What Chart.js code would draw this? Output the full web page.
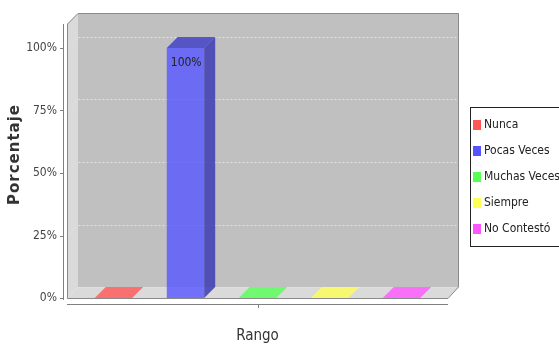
<!DOCTYPE html>
<html>
<head>
<meta charset="utf-8">
<script src="https://cdn.jsdelivr.net/npm/chart.js@4.4.1/dist/chart.umd.min.js"></script>
<style>
  html, body { margin: 0; padding: 0; background: #fff; }
  canvas { display: block; }
</style>
</head>
<body>
<canvas id="chart" width="559" height="345"></canvas>
<script>
// Chart data
const groups = [''];
const categories = ['Nunca', 'Pocas Veces', 'Muchas Veces', 'Siempre', 'No Contestó'];
const percentages = [0, 100, 0, 0, 0];
const yTicks = [0, 25, 50, 75, 100];
const valueLabels = ['0%', '100%', '0%', '0%', '0%'];

// JFreeChart style colours
const baseColors = [[255, 85, 85], [85, 85, 255], [85, 255, 85], [255, 255, 85], [255, 85, 255]];
const rgba = (c, f, a) => `rgba(${Math.round(c[0] * f)},${Math.round(c[1] * f)},${Math.round(c[2] * f)},${a})`;

const DX = 11, DY = 11;
const FONT = '"DejaVu Sans Condensed", "DejaVu Sans", sans-serif';

function poly(ctx, pts) {
    ctx.beginPath();
    pts.forEach((p, i) => i ? ctx.lineTo(p[0], p[1]) : ctx.moveTo(p[0], p[1]));
    ctx.closePath();
}

const plot3d = {
    id: 'plot3d',
    beforeDatasetsDraw(chart) {
        const { ctx, chartArea: a, scales: { y } } = chart;
        const l = a.left, r = a.right, t = a.top, b = Math.round(y.getPixelForValue(0));
        ctx.save();
        // back wall
        ctx.fillStyle = '#c0c0c0';
        ctx.fillRect(l + DX, t - DY, r - l, b - t);
        // left wall and floor
        ctx.fillStyle = '#dadada';
        poly(ctx, [[l, t], [l + DX, t - DY], [l + DX, b - DY], [l, b]]);
        ctx.fill();
        poly(ctx, [[l, b], [l + DX, b - DY], [r + DX, b - DY], [r, b]]);
        ctx.fill();
        // dashed grid lines
        ctx.strokeStyle = '#e4e4e4';
        ctx.lineWidth = 1;
        ctx.setLineDash([2, 2]);
        yTicks.forEach(v => {
            const py = Math.round(y.getPixelForValue(v)) + 0.5;
            ctx.beginPath();
            ctx.moveTo(l, py);
            ctx.lineTo(l + DX, py - DY);
            ctx.lineTo(r + DX, py - DY);
            ctx.stroke();
        });
        ctx.setLineDash([]);
        // outline
        ctx.strokeStyle = '#8a8a8a';
        poly(ctx, [[l + 0.5, b + 0.5], [l + 0.5, t], [l + DX, t - DY + 0.5], [r + DX - 0.5, t - DY + 0.5],
                   [r + DX - 0.5, b - DY], [r, b + 0.5]]);
        ctx.stroke();

        // axis lines and tick marks
        ctx.strokeStyle = '#808080';
        ctx.beginPath();
        ctx.moveTo(l - 3.5, t);
        ctx.lineTo(l - 3.5, b + 2);
        yTicks.forEach(v => {
            const py = Math.round(y.getPixelForValue(v)) + 0.5;
            ctx.moveTo(l - 7, py);
            ctx.lineTo(l - 3.5, py);
        });
        ctx.moveTo(l, b + 6.5);
        ctx.lineTo(r, b + 6.5);
        const cx = Math.round(chart.scales.x.getPixelForValue(0)) + 0.5;
        ctx.moveTo(cx, b + 6.5);
        ctx.lineTo(cx, b + 10);
        ctx.stroke();
        ctx.restore();
    },
    afterDatasetsDraw(chart) {
        const { ctx } = chart;
        ctx.save();
        chart.data.datasets.forEach((ds, i) => {
            chart.getDatasetMeta(i).data.forEach((bar, j) => {
                const { x, y, base, width } = bar.getProps(['x', 'y', 'base', 'width'], true);
                const x0 = x - width / 2, x1 = x + width / 2;
                const zero = ds.data[j] === 0;
                // top face
                ctx.fillStyle = zero ? ds.backgroundColor : rgba(baseColors[i], 0.78, 0.85);
                poly(ctx, [[x0, y], [x1, y], [x1 + DX, y - DY], [x0 + DX, y - DY]]);
                ctx.fill();
                if (zero) return;
                // side face
                ctx.fillStyle = rgba(baseColors[i], 0.7, 0.85);
                poly(ctx, [[x1, y], [x1 + DX, y - DY], [x1 + DX, base - DY], [x1, base]]);
                ctx.fill();
                // value label
                ctx.fillStyle = '#222';
                ctx.font = '12px ' + FONT;
                ctx.textAlign = 'left';
                ctx.textBaseline = 'middle';
                ctx.fillText(valueLabels[i], x0 + 4, y + 15);
            });
        });
        ctx.restore();
    },
    afterDraw(chart) {
        const { ctx } = chart;
        ctx.save();
        // y axis title
        ctx.translate(15, 155);
        ctx.rotate(-Math.PI / 2);
        ctx.font = 'bold 15px "DejaVu Sans", sans-serif';
        ctx.letterSpacing = '1px';
        ctx.fillStyle = '#333';
        ctx.textAlign = 'center';
        ctx.textBaseline = 'middle';
        ctx.fillText('Porcentaje', 0.5, 0);
        ctx.restore();

        // legend
        ctx.save();
        ctx.strokeStyle = '#222';
        ctx.lineWidth = 1;
        ctx.strokeRect(470.5, 107.5, 100, 139);
        ctx.font = '12px ' + FONT;
        ctx.textAlign = 'left';
        ctx.textBaseline = 'middle';
        categories.forEach((c, i) => {
            const cy = 125 + 26 * i;
            ctx.fillStyle = rgba(baseColors[i], 1, 1);
            ctx.fillRect(473, cy - 5, 8, 10);
            ctx.fillStyle = '#222';
            ctx.fillText(c, 484, cy);
        });
        ctx.restore();
    }
};

const chart = new Chart(document.getElementById('chart'), {
    type: 'bar',
    data: {
        labels: groups,
        datasets: categories.map((c, i) => ({
            label: c,
            data: [percentages[i]],
            backgroundColor: rgba(baseColors[i], 1, 0.8),
            borderWidth: 0,
            categoryPercentage: 0.945,
            barPercentage: 0.52
        }))
    },
    options: {
        responsive: false,
        animation: false,
        layout: { padding: { left: 0, top: 24, right: 111, bottom: 0 } },
        plugins: {
            legend: { display: false },
            tooltip: { enabled: false }
        },
        scales: {
            x: {
                grid: { display: false },
                border: { display: false },
                ticks: { display: false },
                title: {
                    display: true,
                    text: 'Rango',
                    color: '#333',
                    font: { family: FONT, size: 15 },
                    padding: { top: 0, bottom: 0 }
                },
                afterFit: s => { s.height = 47; }
            },
            y: {
                min: 0,
                max: 109.6,
                grid: { display: false, drawTicks: false },
                border: { display: false },
                ticks: {
                    stepSize: 25,
                    padding: 10,
                    color: '#444',
                    font: { family: FONT, size: 12 },
                    callback: v => v + '%'
                },
                afterBuildTicks: s => { s.ticks = yTicks.map(v => ({ value: v })); },
                afterFit: s => { s.width = 67; }
            }
        }
    },
    plugins: [plot3d]
});
</script>
</body>
</html>
